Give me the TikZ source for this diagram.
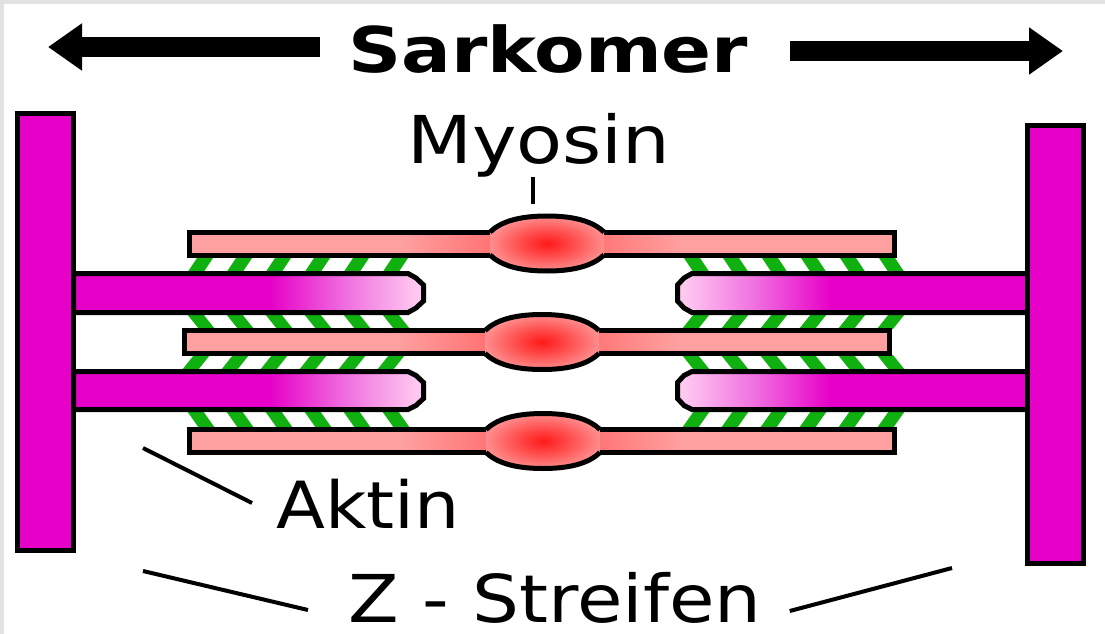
\documentclass[tikz,border=0pt]{standalone}
\usepackage{fontspec}
\setmainfont{DejaVu Sans}
\usetikzlibrary{arrows.meta}

\definecolor{zmag}{RGB}{230,0,200}
\definecolor{actpink}{RGB}{255,200,240}
\definecolor{actmid}{RGB}{240,112,224}
\definecolor{myosal}{RGB}{255,160,160}
\definecolor{myored}{RGB}{255,90,90}
\definecolor{headred}{RGB}{255,26,26}
\definecolor{headmid}{RGB}{255,74,74}
\definecolor{headrim}{RGB}{255,140,140}
\definecolor{xbgreen}{RGB}{16,176,16}
\definecolor{framegray}{RGB}{226,226,226}

% fades for the filaments
\pgfdeclarehorizontalshading{actinleft}{100bp}{color(0bp)=(zmag); color(53bp)=(zmag); color(64bp)=(actmid); color(74bp)=(actpink); color(100bp)=(actpink)}
\pgfdeclarehorizontalshading{actinright}{100bp}{color(0bp)=(actpink); color(26bp)=(actpink); color(36bp)=(actmid); color(47bp)=(zmag); color(100bp)=(zmag)}
\pgfdeclarehorizontalshading{myofil}{100bp}{color(0bp)=(myosal); color(40bp)=(myosal); color(50bp)=(myored); color(60bp)=(myosal); color(100bp)=(myosal)}
\pgfdeclareradialshading{myohead}{\pgfpoint{0bp}{0bp}}{color(0bp)=(headred); color(11bp)=(headmid); color(25bp)=(headrim); color(50bp)=(headrim)}

% one myosin head outline, top (#3=-1) or bottom (#3=1)
\newcommand\headarc[3]{(#1-57,#2+#3*11.5) .. controls (#1-47,#2+#3*21) and (#1-30,#2+#3*27.5) .. (#1,#2+#3*27.5)
  .. controls (#1+30,#2+#3*27.5) and (#1+47,#2+#3*21) .. (#1+57,#2+#3*11.5)}

\begin{document}
\begin{tikzpicture}[x=1pt,y=-1pt,line join=miter,
  outline/.style={draw=black,line width=5pt},
  pointer/.style={draw=black,line width=4pt},
  bigarrow/.style={line width=20pt,-{Triangle[length=34pt,width=45pt]}},
  lbltext/.style={inner sep=0pt,anchor=base west}]

  \useasboundingbox (0,0) rectangle (1105,634);
  \fill[white] (0,0) rectangle (1105,634);
  \fill[framegray] (0,0) rectangle (1105,4);
  \fill[framegray] (0,0) rectangle (4,634);

  % cross-bridges
  \foreach \xo/\yt/\yb/\b/\t in {187/255/273/0/12, 187/314/329/12/0, 182/355/370/0/12, 187/411/428/12/0,
                                 682/255/273/12/0, 682/314/329/0/12, 682/355/370/12/0, 682/411/428/0/12}
    \foreach \i in {0,...,5}
      \fill[xbgreen] (\xo+39*\i+\b,\yb) -- ++(16,0) -- (\xo+39*\i+\t+16,\yt) -- (\xo+39*\i+\t,\yt) -- cycle;

  % actin
  \foreach \yc/\h in {293/19.5, 390.5/19}{
    \draw[outline,shading=actinleft] (73.5,\yc-\h) -- (408,\yc-\h) -- (416,\yc-15) -- (423.5,\yc-8)
      -- (423.5,\yc+8) -- (416,\yc+15) -- (408,\yc+\h) -- (73.5,\yc+\h) -- cycle;
    \draw[outline,shading=actinright] (1027.5,\yc-\h) -- (692,\yc-\h) -- (684,\yc-15) -- (677.5,\yc-8)
      -- (677.5,\yc+8) -- (684,\yc+15) -- (692,\yc+\h) -- (1027.5,\yc+\h) -- cycle;
  }

  % myosin with heads
  \foreach \xa/\xb/\yc/\cx in {189.5/894.5/243.5/547, 184.5/889.5/342/542, 189.5/894.5/441/543}{
    \draw[outline,shading=myofil] (\xa,\yc-11.5) rectangle (\xb,\yc+11.5);
    \shade[shading=myohead] \headarc{\cx}{\yc}{-1} -- (\cx+57,\yc+11.5)
      .. controls (\cx+47,\yc+21) and (\cx+30,\yc+27.5) .. (\cx,\yc+27.5)
      .. controls (\cx-30,\yc+27.5) and (\cx-47,\yc+21) .. (\cx-57,\yc+11.5) -- cycle;
    \draw[outline] \headarc{\cx}{\yc}{-1};
    \draw[outline] \headarc{\cx}{\yc}{1};
  }

  % Z discs
  \draw[outline,fill=zmag] (17.5,113.5) rectangle (73.5,550.5);
  \draw[outline,fill=zmag] (1027.5,125.5) rectangle (1083.5,563.5);

  % labels
  \node[lbltext,font=\bfseries\fontsize{63}{70}\selectfont] (sarkomer) at (348,73) {\scalebox{1.17}[1]{Sarkomer}};
  \node[lbltext,font=\fontsize{66}{70}\selectfont] (myosin) at (407,163) {\scalebox{1.14}[1]{Myosin}};
  \node[lbltext,font=\fontsize{65}{70}\selectfont] (aktin) at (276,528) {\scalebox{1.1}[1]{Aktin}};
  \node[lbltext,font=\fontsize{66}{70}\selectfont] (zstreifen) at (348,622) {\scalebox{1.12}[1]{Z - Streifen}};

  \coordinate (sl) at (48,47);
  \coordinate (sr) at (1063,51);
  \coordinate (mtip) at (533,204);
  \coordinate (apt) at (143,448);
  \coordinate (zl) at (143,571);
  \coordinate (zr) at (952,568);

  \draw[bigarrow] (sarkomer.base west) ++(-28,-26) -- (sl);
  \draw[bigarrow] (sarkomer.base east) ++(42,-22) -- (sr);
  \draw[pointer] (mtip |- myosin.south) -- (mtip);
  \draw[pointer] (aktin.base west) ++(-24,-25) -- (apt);
  \draw[pointer] (zstreifen.base west) ++(-40,-12) -- (zl);
  \draw[pointer] (zstreifen.base east) ++(28,-11) -- (zr);
\end{tikzpicture}
\end{document}
